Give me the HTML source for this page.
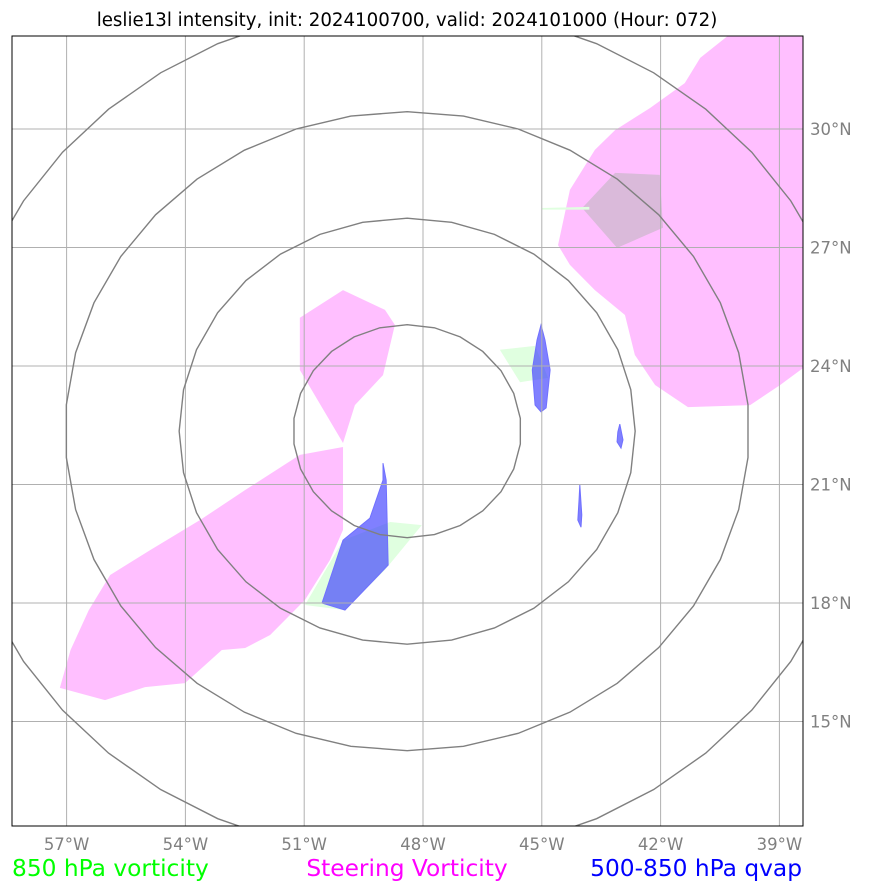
<!DOCTYPE html>
<html><head><meta charset="utf-8"><style>
body{margin:0;background:#fff;}
svg text{font-family:"DejaVu Sans","Liberation Sans",sans-serif;}
</style></head><body>
<svg id="chart" width="873" height="891" xmlns="http://www.w3.org/2000/svg">
<text x="407" y="26" font-size="18.2" text-anchor="middle">leslie13l intensity, init: 2024100700, valid: 2024101000 (Hour: 072)</text>
<defs><clipPath id="clip"><rect x="12" y="36" width="791" height="790"/></clipPath></defs>
<g id="shapes" clip-path="url(#clip)"></g>
<g id="grid" clip-path="url(#clip)"></g>
<g id="rings" clip-path="url(#clip)"></g>
<rect x="12" y="36" width="791" height="790" fill="none" stroke="#000" stroke-width="1"/>
<g id="labels"></g>
<text x="12" y="876" font-size="23.3" fill="#00ff00">850 hPa vorticity</text>
<text x="407" y="876" font-size="23.3" fill="#ff00ff" text-anchor="middle">Steering Vorticity</text>
<text x="802" y="876" font-size="23.3" fill="#0000ff" text-anchor="end">500-850 hPa qvap</text>
</svg>
<script>
const lonTicks=[-57,-54,-51,-48,-45,-42,-39];
const latTicks=[30,27,24,21,18,15];
const ringLevels=[1,2,3,4];
const steeringRight=[[-43.15,29.97],[-42.27,30.53],[-41.39,31.16],[-41.0,31.8],[-40.25,32.4],[-38.4,32.4],[-38.4,23.95],[-38.98,23.52],[-39.74,23.01],[-41.31,22.96],[-42.14,23.52],[-42.65,24.28],[-42.9,25.29],[-43.66,25.92],[-44.29,26.56],[-44.59,27.06],[-44.29,28.46],[-43.66,29.47]];
const steeringOverlap=[[-43.98,28.0],[-43.15,28.89],[-42.02,28.84],[-41.94,27.5],[-43.1,26.99]];
const steeringMid=[[-51.11,25.22],[-50.02,25.92],[-48.96,25.42],[-48.71,25.04],[-49.01,23.77],[-49.72,23.01],[-50.02,22.05],[-51.11,23.9]];
const steeringLeft=[[-50.02,21.95],[-50.02,19.85],[-50.35,19.09],[-50.98,18.08],[-51.86,17.19],[-52.49,16.86],[-53.08,16.81],[-54.01,15.97],[-55.02,15.87],[-56.03,15.54],[-57.17,15.85],[-56.9,16.81],[-56.44,17.82],[-55.9,18.71],[-54.89,19.34],[-53.63,20.1],[-52.49,20.86],[-51.11,21.75]];
const vort850A=[[-50.98,17.95],[-50.02,19.59],[-48.83,20.05],[-48.03,19.97],[-48.96,18.84],[-49.97,17.82]];
const vort850B=[[-46.06,24.41],[-45.17,24.51],[-44.84,23.70],[-45.55,23.59]];
const vort850C=[[-45.0,28.0],[-43.8,28.03],[-43.8,27.96],[-45.0,27.96]];
const qvapA=[[-50.55,18.0],[-50.02,19.59],[-49.34,20.15],[-49.01,21.11],[-49.01,21.54],[-48.93,21.11],[-48.88,18.96],[-49.97,17.82]];
const qvapB=[[-45.02,25.04],[-44.92,24.66],[-44.79,23.9],[-44.89,22.94],[-45.02,22.84],[-45.17,23.01],[-45.24,23.9],[-45.12,24.66]];
const qvapC=[[-43.03,22.53],[-42.95,22.13],[-43.0,21.92],[-43.1,22.08],[-43.08,22.33]];
const qvapD=[[-44.04,20.99],[-43.99,20.23],[-44.01,19.92],[-44.09,20.1],[-44.06,20.6]];
const ringCenter=[-48.4,22.35];

const X=lon=>423+(lon+48)*39.6;
const Y=lat=>366-(lat-24)*39.5;
const NS='http://www.w3.org/2000/svg';
function mk(tag,attrs,parent){const e=document.createElementNS(NS,tag);for(const k in attrs)e.setAttribute(k,attrs[k]);document.getElementById(parent).appendChild(e);return e;}
function poly(pts,fill,stroke,name){
  const e=mk('polygon',{points:pts.map(p=>X(p[0])+','+Y(p[1])).join(' '),fill:fill,stroke:stroke,'stroke-width':1},'shapes');
  
  
}
poly(steeringRight,'#ffbfff','none','steering-vorticity-east');
poly(steeringOverlap,'#dabada','none','steering-vorticity-overlap');
poly(steeringMid,'#ffbfff','none','steering-vorticity-center');
poly(steeringLeft,'#ffbfff','none','steering-vorticity-west');
poly(vort850A,'#e0ffe0','none','vorticity-850-south');
poly(vort850B,'#e0ffe0','none','vorticity-850-east');
poly(vort850C,'#e0ffe0','none','vorticity-850-north');
poly(qvapA,'rgba(60,60,255,0.65)','#7070ff','qvap-south');
poly(qvapB,'rgba(60,60,255,0.65)','#7070ff','qvap-east');
poly(qvapC,'rgba(60,60,255,0.65)','#7070ff','qvap-small-east');
poly(qvapD,'rgba(60,60,255,0.65)','#7070ff','qvap-small-south');

lonTicks.forEach(l=>{
  const g=mk('line',{x1:X(l),x2:X(l),y1:36,y2:826,stroke:'#b0b0b0','stroke-width':1},'grid');
  
  
  const t=mk('text',{x:X(l),y:850,'font-size':16.5,fill:'#808080','text-anchor':'middle'},'labels');
  t.textContent=Math.abs(l)+'°W';
  
  
});
latTicks.forEach(l=>{
  const g=mk('line',{x1:12,x2:803,y1:Y(l),y2:Y(l),stroke:'#b0b0b0','stroke-width':1},'grid');
  
  
  const t=mk('text',{x:810,y:Y(l)+6,'font-size':16.5,fill:'#808080'},'labels');
  t.textContent=l+'°N';
  
  
});
ringLevels.forEach(k=>{
  const pts=[];
  const n=20+6*k;
  for(let i=0;i<n;i++){const a=i/n*2*Math.PI;pts.push((X(ringCenter[0])+Math.sin(a)*114*k)+','+(Y(ringCenter[1])-Math.cos(a)*106.5*k));}
  const e=mk('polygon',{points:pts.join(' '),fill:'none',stroke:'#808080','stroke-width':1.4},'rings');
  
  
});
</script>
</body></html>
